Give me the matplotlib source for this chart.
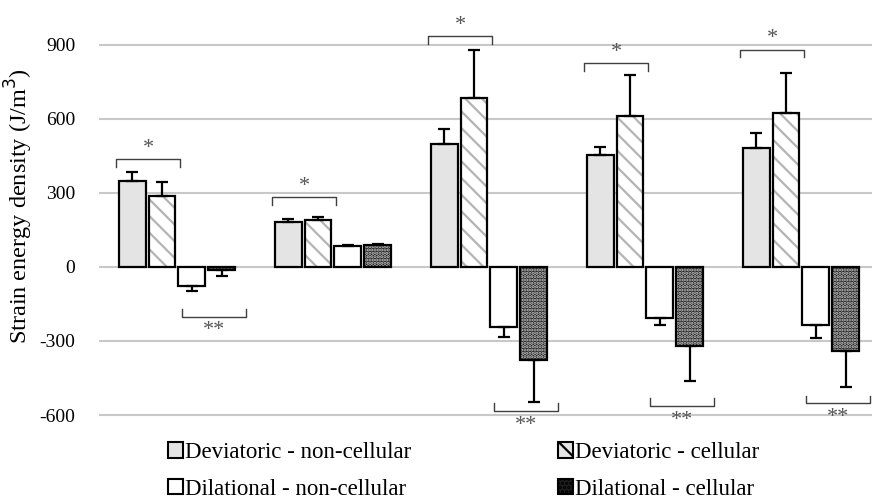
import numpy as np
import matplotlib
matplotlib.use("Agg")
import matplotlib.pyplot as plt
from matplotlib.patches import Patch

plt.rcParams['font.family'] = ['Liberation Serif', 'DejaVu Serif']
plt.rcParams['hatch.linewidth'] = 1.6
plt.rcParams['axes.unicode_minus'] = False

# bar heights and error bars (J/m^3), five loading cases
dev_noncell = [347, 181, 497, 453, 480]
dev_noncell_err = [39, 12, 60, 34, 63]
dev_cell = [288, 189, 682, 611, 622]
dev_cell_err = [55, 12, 196, 164, 164]
dil_noncell = [-76, 86, -245, -205, -237]
dil_noncell_err = [20, 4, 37, 30, 51]
dil_cell = [-13, 90, -376, -322, -340]
dil_cell_err = [23, 2, 170, 139, 145]

# significance brackets (y of bracket line); None = no bracket
upper_bracket = [436, 282, 933, 824, 878]
lower_bracket = [-201, None, -583, -562, -552]

labels = ['Deviatoric - non-cellular', 'Deviatoric - cellular',
          'Dilational - non-cellular', 'Dilational - cellular']

x = np.arange(len(dev_noncell))
w = 0.173
step = 0.192

fig = plt.figure(figsize=(8.72, 5.03), dpi=100)
ax = fig.add_axes([0.1135, 0.165, 0.8945, 0.7955])

ax.set_axisbelow(True)
ax.yaxis.grid(True, color='#c8c8c8', linewidth=1.5)
for s in ax.spines.values():
    s.set_visible(False)

ekw = dict(ecolor='black', elinewidth=1.6, capsize=4, capthick=1.6)

def draw(pos, vals, errs, face, hatch=None, hcolor=None):
    # one-sided error bars: up for positive bars, down for negative
    yerr = [[0 if v >= 0 else e for v, e in zip(vals, errs)],
            [e if v >= 0 else 0 for v, e in zip(vals, errs)]]
    if hatch:
        ax.bar(pos, vals, w, color=face, edgecolor=hcolor, hatch=hatch, linewidth=0, zorder=2)
        ax.bar(pos, vals, w, color='none', edgecolor='black', linewidth=1.6,
               yerr=yerr, error_kw=ekw, zorder=3)
    else:
        ax.bar(pos, vals, w, color=face, edgecolor='black', linewidth=1.6,
               yerr=yerr, error_kw=ekw, zorder=3)

draw(x - 1.5 * step, dev_noncell, dev_noncell_err, '#e4e4e4')
draw(x - 0.5 * step, dev_cell, dev_cell_err, 'white', '\\\\', '#b4b4b4')
draw(x + 0.5 * step, dil_noncell, dil_noncell_err, 'white')
draw(x + 1.5 * step, dil_cell, dil_cell_err, '#1e1e1e', '.....', '#c8c8c8')

# significance brackets
for i, yb in enumerate(upper_bracket):
    x0, x1 = i - 0.39, i + 0.02
    ax.plot([x0, x0, x1, x1], [yb - 30, yb, yb, yb - 30], color='#404040', lw=1, zorder=4, clip_on=False)
    ax.text((x0 + x1) / 2, yb + 45, '*', ha='center', va='center', fontsize=16, color='#555555')
for i, yb in enumerate(lower_bracket):
    if yb is None:
        continue
    x0, x1 = i + 0.03, i + 0.44
    ax.plot([x0, x0, x1, x1], [yb + 30, yb, yb, yb + 30], color='#404040', lw=1, zorder=4, clip_on=False)
    ax.text((x0 + x1) / 2, yb - 58, '**', ha='center', va='center', fontsize=16, color='#555555')

ax.set_xlim(-0.5, 4.5)
ax.set_ylim(-620, 1000)
ax.set_yticks([-600, -300, 0, 300, 600, 900])
ax.set_xticks([])
ax.tick_params(axis='y', length=0, labelsize=14, pad=17)

fig.text(0.022, 0.59, 'Strain energy density (J/m$^3$)', rotation=90,
         ha='center', va='center', fontsize=17.5)

handles = [
    Patch(facecolor='#e4e4e4', edgecolor='black', linewidth=1.5),
    Patch(facecolor='white', edgecolor='black', linewidth=1.5),
    Patch(facecolor='#e4e4e4', edgecolor='black', linewidth=1.5, hatch='\\\\'),
    Patch(facecolor='#1e1e1e', edgecolor='black', linewidth=1.5, hatch='....'),
]
leg_labels = [labels[0], labels[2], labels[1], labels[3]]
fig.legend(handles, leg_labels, ncol=2, loc='center', bbox_to_anchor=(0.532, 0.064),
           frameon=False, fontsize=16.5, handlelength=0.65, handleheight=0.65,
           handletextpad=0.1, columnspacing=6.4, labelspacing=0.68)

fig.savefig('out.png', dpi=100)
